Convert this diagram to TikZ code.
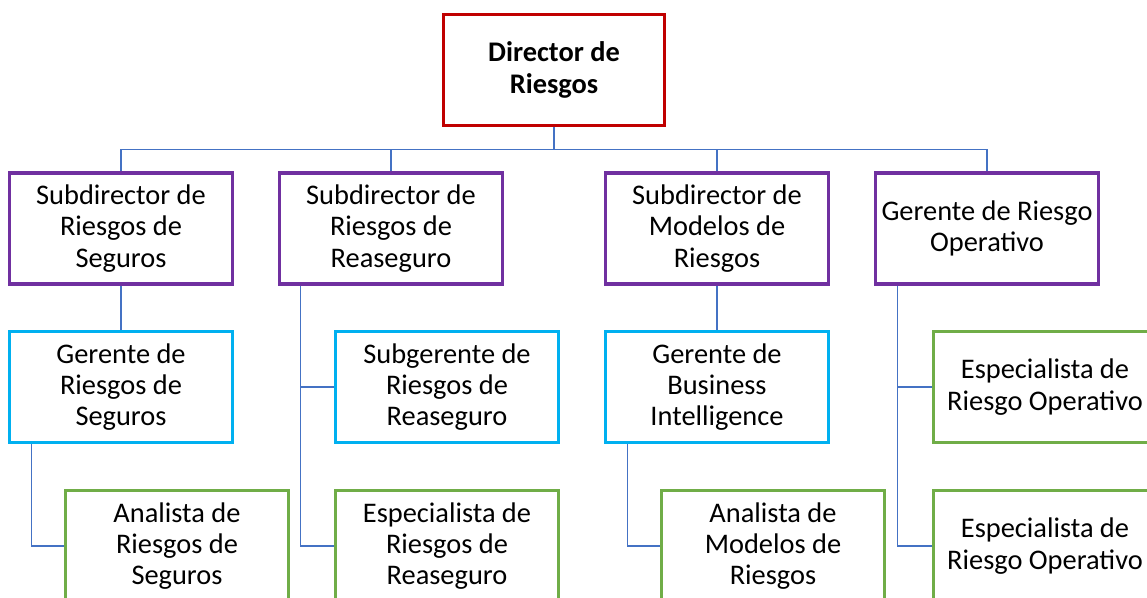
\documentclass[tikz,border=0pt]{standalone}
\usepackage{fontspec}
\setmainfont{Carlito}
\usetikzlibrary{calc}
\definecolor{cred}{HTML}{C00000}
\definecolor{cpur}{HTML}{7030A0}
\definecolor{ccya}{HTML}{00B0F0}
\definecolor{cgrn}{HTML}{70AD47}
\definecolor{clink}{HTML}{4472C4}
\tikzset{
  box/.style={draw, line width=2.6pt, fill=white, align=center, inner sep=0pt,
    minimum width=167.5pt, minimum height=83pt, font=\fontsize{21.3}{23.4}\selectfont},
  dirbox/.style={box, draw=cred, minimum width=166pt, minimum height=83.5pt, font=\fontsize{21.3}{23.4}\selectfont\bfseries},
  subbox/.style={box, draw=cpur},
  gerbox/.style={box, draw=ccya},
  grnbox/.style={box, draw=cgrn},
  link/.style={draw=clink, line width=1.2pt}
}
\begin{document}
\begin{tikzpicture}[x=0.75pt,y=-0.75pt]
\useasboundingbox (0,0) rectangle (1147,597);
\fill[white] (0,0) rectangle (1147,597);
\clip (0,0) rectangle (1147,597);
\node[dirbox] (dir) at (554,70) {Director de\\Riesgos};
\node[subbox] (s1) at (121,228.5) {Subdirector de\\Riesgos de\\Seguros};
\node[subbox] (s2) at (391,228.5) {Subdirector de\\Riesgos de\\Reaseguro};
\node[subbox] (s3) at (717,228.5) {Subdirector de\\Modelos de\\Riesgos};
\node[subbox] (s4) at (987,228.5) {Gerente de Riesgo\\Operativo};
\node[gerbox] (g1) at (121,387) {Gerente de\\Riesgos de\\Seguros};
\node[gerbox] (g2) at (447,387) {Subgerente de\\Riesgos de\\Reaseguro};
\node[gerbox] (g3) at (717,387) {Gerente de\\Business\\Intelligence};
\node[grnbox] (e1) at (1045,387) {Especialista de\\Riesgo Operativo};
\node[grnbox] (a1) at (177,546) {Analista de\\Riesgos de\\Seguros};
\node[grnbox] (a2) at (447,546) {Especialista de\\Riesgos de\\Reaseguro};
\node[grnbox] (a3) at (773,546) {Analista de\\Modelos de\\Riesgos};
\node[grnbox] (a4) at (1045,546) {Especialista de\\Riesgo Operativo};
\coordinate (bus) at ($(dir.south)+(0,22)$);
\draw[link] (dir.south) -- (bus) -| (s1.north);
\draw[link] (bus) -| (s2.north);
\draw[link] (bus) -| (s3.north);
\draw[link] (bus) -| (s4.north);
\draw[link] (s1.south) -- (g1.north);
\draw[link] (s3.south) -- (g3.north);
\coordinate (c1) at ($(g1.south west)+(24,0)$);
\draw[link] (c1) |- (a1.west);
\coordinate (c2) at ($(s2.south west)+(23,0)$);
\draw[link] (c2) |- (a2.west);
\draw[link] (c2 |- g2.west) -- (g2.west);
\coordinate (c3) at ($(g3.south west)+(24,0)$);
\draw[link] (c3) |- (a3.west);
\coordinate (c4) at ($(s4.south west)+(24,0)$);
\draw[link] (c4) |- (a4.west);
\draw[link] (c4 |- e1.west) -- (e1.west);
\end{tikzpicture}
\end{document}
